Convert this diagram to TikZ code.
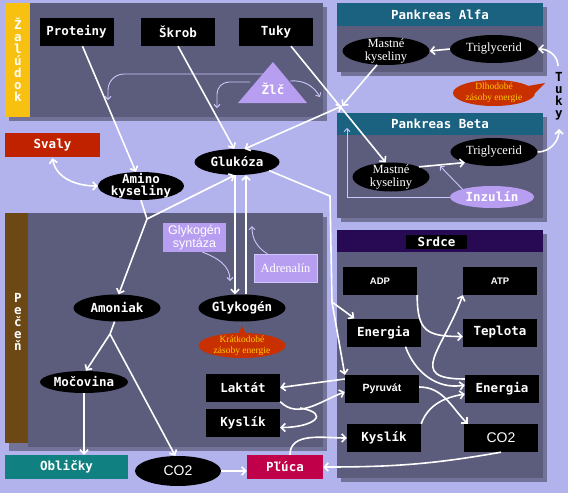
\documentclass[tikz,border=0pt]{standalone}
\usepackage{fontspec}
\setmainfont{Liberation Serif}
\setsansfont{Liberation Sans}
\setmonofont{DejaVu Sans Mono}
\usetikzlibrary{shapes.geometric, arrows.meta}

\definecolor{bg}{RGB}{178,178,236}
\definecolor{panelgray}{RGB}{92,92,124}
\definecolor{yellowbar}{RGB}{248,192,16}
\definecolor{brownbar}{RGB}{108,72,20}
\definecolor{tealhead}{RGB}{26,98,128}
\definecolor{srdcehead}{RGB}{40,10,84}
\definecolor{svalyred}{RGB}{192,34,0}
\definecolor{oblteal}{RGB}{16,128,128}
\definecolor{plucared}{RGB}{192,0,72}
\definecolor{lavnode}{RGB}{184,158,240}
\definecolor{bubblered}{RGB}{200,48,0}
\definecolor{bubbletext}{RGB}{255,200,0}
\definecolor{bilecol}{RGB}{206,198,252}

\begin{document}
\begin{tikzpicture}[x=1pt, y=-1pt, >={Straight Barb[length=4pt,width=8pt]},
  pix/.style={font=\ttfamily\bfseries\fontsize{12.5}{12}\selectfont},
  box/.style={pix, fill=black, text=white, minimum width=74pt, minimum height=28pt, inner sep=0pt, align=center},
  oval/.style={pix, ellipse, fill=black, text=white, inner sep=0pt, align=center},
  serif/.style={font=\rmfamily\fontsize{12.5}{13}\selectfont},
  sanslab/.style={font=\sffamily\bfseries\fontsize{9.5}{10}\selectfont},
  bigsans/.style={font=\sffamily\fontsize{14}{14}\selectfont},
  bubble/.style={ellipse, fill=bubblered, text=bubbletext, inner sep=0pt, inner ysep=-5pt, align=center,
    font=\rmfamily\fontsize{9.5}{11}\selectfont},
  vlabel/.style={pix, text=white, align=center},
  headtext/.style={pix, text=white},
  shade/.style={fill=black, opacity=0.35},
  flow/.style={draw=white, line width=1.6pt, ->},
  faint/.style={draw=bilecol, line width=0.9pt, ->, >={Straight Barb[length=3pt,width=6pt]}}]

  \useasboundingbox (0,0) rectangle (568,493);
  \fill[bg] (0,0) rectangle (568,493);

  \fill[shade] (9,7) rectangle (327,121);
  \fill[shade] (341,7) rectangle (547,76);
  \fill[shade] (341,117) rectangle (547,222);
  \fill[shade] (341,234) rectangle (547,482);
  \fill[shade] (9,217) rectangle (327,451);

  \fill[yellowbar] (5,3) rectangle (30,117);
  \fill[panelgray] (30,3) rectangle (323,117);
  \node[vlabel] (zaludok) at (18,60) {Ž\\a\\l\\ú\\d\\o\\k};

  \fill[panelgray] (337,3) rectangle (543,72);
  \fill[tealhead] (337,3) rectangle (543,26) node[midway, headtext] (alfa) {Pankreas Alfa};
  \fill[panelgray] (337,113) rectangle (543,218);
  \fill[tealhead] (337,113) rectangle (543,135) node[midway, headtext] (beta) {Pankreas Beta};

  \fill[panelgray] (337,230) rectangle (543,478);
  \fill[srdcehead] (337,230) rectangle (543,252);
  \node[box, minimum width=61pt, minimum height=14pt] (srdce) at (436.5,242) {Srdce};

  \fill[brownbar] (5,213) rectangle (28,443);
  \fill[panelgray] (28,213) rectangle (323,447);
  \node[vlabel] (pecen) at (18,322) {P\\e\\č\\e\\ň};

  \node[box] (prot) at (76.5,32) {Proteiny};
  \node[box] (skrob) at (178,32) {Škrob};
  \node[box] (tuky) at (276,32) {Tuky};
  \fill[lavnode] (238,103) -- (273,62) -- (307,103) -- cycle;
  \node[headtext] (zlc) at (273,89) {Žlč};

  \node[box, fill=svalyred, minimum width=95pt, minimum height=24pt] (svaly) at (52.5,145) {Svaly};
  \node[oval, minimum width=86pt, minimum height=28pt, inner ysep=-6pt] (amino) at (141,186) {Amino\\kyseliny};
  \node[oval, minimum width=85pt, minimum height=26pt] (gluk) at (237,162) {Glukóza};

  \node[oval, serif, minimum width=87pt, minimum height=28pt, inner ysep=-7pt] (mkA) at (386,51) {Mastné\\kyseliny};
  \node[oval, serif, minimum width=88pt, minimum height=28pt] (trigA) at (494,49) {Triglycerid};
  \node[bubble, minimum width=82pt, minimum height=26pt] (dlho) at (494,93) {Dlhodobé\\zásoby energie};
  \fill[bubblered] (528,86) -- (545,83) -- (531,97) -- cycle;
  \node[pix, align=center] (tukyside) at (559,96) {T\\u\\k\\y};

  \node[oval, serif, minimum width=77pt, minimum height=29pt, inner ysep=-7pt] (mkB) at (391,177) {Mastné\\kyseliny};
  \node[oval, serif, minimum width=87pt, minimum height=28pt] (trigB) at (494,152) {Triglycerid};
  \node[oval, fill=lavnode, minimum width=84pt, minimum height=22pt] (inzulin) at (492,197) {Inzulín};

  \node[box, fill=lavnode, font=\sffamily\fontsize{12.5}{12.5}\selectfont, minimum width=63pt, minimum height=29pt] (syntaza) at (194.5,237.5) {Glykogén\\syntáza};
  \node[box, fill=lavnode, draw=bilecol, serif, minimum width=63pt, minimum height=28pt] (adrenalin) at (285.5,268) {Adrenalín};
  \node[oval, minimum width=87pt, minimum height=27pt] (amoniak) at (117,308) {Amoniak};
  \node[oval, minimum width=87pt, minimum height=27pt] (glykogen) at (242,308) {Glykogén};
  \node[bubble, minimum width=87pt, minimum height=25pt] (kratko) at (242,345.5) {Krátkodobé\\zásoby energie};
  \fill[bubblered] (237,336) -- (242,326) -- (247,336) -- cycle;
  \node[oval, minimum width=88pt, minimum height=22pt] (mocovina) at (84,382) {Močovina};
  \node[box] (laktat) at (243,387.5) {Laktát};
  \node[box] (kyslikP) at (243,422.5) {Kyslík};

  \node[box, fill=oblteal, minimum width=123pt, minimum height=24pt] (obl) at (66.5,467) {Obličky};
  \node[oval, bigsans, minimum width=86pt, minimum height=30pt] (co2) at (178,471) {CO2};
  \node[box, fill=plucared, minimum width=76pt, minimum height=24pt] (pluca) at (285,467) {Pľúca};

  \node[box, sanslab] (adp) at (380,281) {ADP};
  \node[box, sanslab] (atp) at (500,281) {ATP};
  \node[box] (energiaL) at (383.5,332.5) {Energia};
  \node[box] (teplota) at (500,332.5) {Teplota};
  \node[box, sanslab, font=\sffamily\bfseries\fontsize{10.5}{11}\selectfont] (pyruvat) at (382,389) {Pyruvát};
  \node[box] (energiaR) at (502,389) {Energia};
  \node[box] (kyslikS) at (384,438) {Kyslík};
  \node[box, bigsans] (co2S) at (501,438) {CO2};

  \coordinate (hub) at (342,106);
  \coordinate (fork) at (147,219);
  \coordinate (bend) at (330,196);
  \coordinate (fork2) at (332,302);
  \coordinate (fork3) at (110,334);
  \coordinate (loop) at (300,408);
  \coordinate (tukytop) at (558,66);
  \coordinate (tukybot) at (559,129);
  \coordinate (insmid) at (440,166);
  \coordinate (betaup) at (347,128);
  \coordinate (bileA) at (263,74);
  \coordinate (bileAend) at (108,100);
  \coordinate (bileB) at (250,82);
  \coordinate (bileBend) at (217,108);
  \coordinate (bileC) at (290,81);
  \coordinate (bileCend) at (320,97);
  \coordinate (syntend) at (230,281);
  \coordinate (adrend) at (252,226);

  \draw[faint, rounded corners=16pt] (bileA) -| (bileAend);
  \draw[faint, rounded corners=12pt] (bileB) -| (bileBend);
  \draw[faint] (bileC) to[out=5,in=120] (bileCend);

  \draw[flow] ([xshift=6pt]prot.south) -- (amino.110);
  \draw[flow] (skrob.south) -- (gluk.102);
  \draw[flow] ([xshift=15pt]tuky.south) -- (mkB.110);
  \draw[flow] (mkA.237) -- (hub);
  \draw[flow, <->] (gluk.60) -- (hub);
  \draw[flow, <->] ([yshift=-1pt]svaly.south) to[out=-80,in=180] (amino.west);
  \draw[flow, -] (amino.south) -- (fork);
  \draw[flow] (fork) -- (gluk.260);
  \draw[flow] (fork) -- (amoniak.83);

  \draw[flow] (trigA.west) -- (mkA.east);
  \draw[flow] (mkB.20) -- (trigB.200);
  \draw[flow] (tukytop) to[out=90,in=0] (trigA.east);
  \draw[flow] (trigB.east) to[out=0,in=-90] (tukybot);
  \draw[faint] (inzulin.165) -- (insmid);
  \draw[faint] (inzulin.west) -| (betaup);

  \draw[flow] ([xshift=-2pt]gluk.south) -- ([xshift=-7pt]glykogen.north);
  \draw[flow] ([xshift=4pt]glykogen.north) -- ([xshift=9pt]gluk.south);
  \draw[faint] ([xshift=8pt]syntaza.south) to[out=-20,in=90] (syntend);
  \draw[faint] ([xshift=-18pt]adrenalin.north) to[out=150,in=-90] (adrend);

  \draw[flow, -] (gluk.-15) -- (bend) -- (fork2);
  \draw[flow] (fork2) -- ([xshift=8pt]energiaL.north west);
  \draw[flow] (fork2) -- (pyruvat.north west);

  \draw[flow] ([yshift=10pt]pyruvat.west) -- (laktat.east);
  \draw[flow] (laktat.south east) to[out=-45,in=200] ([yshift=-3pt]pyruvat.west);
  \draw[flow] (loop) to[out=-10,in=0,looseness=3] ([yshift=-5pt]kyslikP.east);

  \draw[flow, -] (amoniak.-100) -- (fork3);
  \draw[flow] (fork3) -- (mocovina.80);
  \draw[flow] (fork3) -- (co2.100);
  \draw[flow] (mocovina.south) -- (mocovina.south |- obl.north);
  \draw[flow] (co2.east) -- (co2.east -| pluca.west);

  \draw[flow] (adp.south east) to[out=-90,in=180,looseness=1.5] ([yshift=-4pt]teplota.west);
  \draw[flow] ([yshift=10pt]energiaR.west) to[out=180,in=-110,looseness=1.8] (atp.south west);
  \draw[flow] ([xshift=22pt]energiaL.south) to[out=-70,in=190] ([yshift=4pt]energiaR.west);
  \draw[flow] ([yshift=2pt]pyruvat.east) to[out=0,in=135] ([xshift=4pt]co2S.north west);
  \draw[flow] (kyslikS.north east) to[out=70,in=190] ([yshift=-5pt]energiaR.west);
  \draw[flow] ([xshift=5pt]pluca.north) to[out=90,in=180] (kyslikS.west);
  \draw[flow] (co2S.south) to[out=190,in=0] (pluca.east);

\end{tikzpicture}
\end{document}
